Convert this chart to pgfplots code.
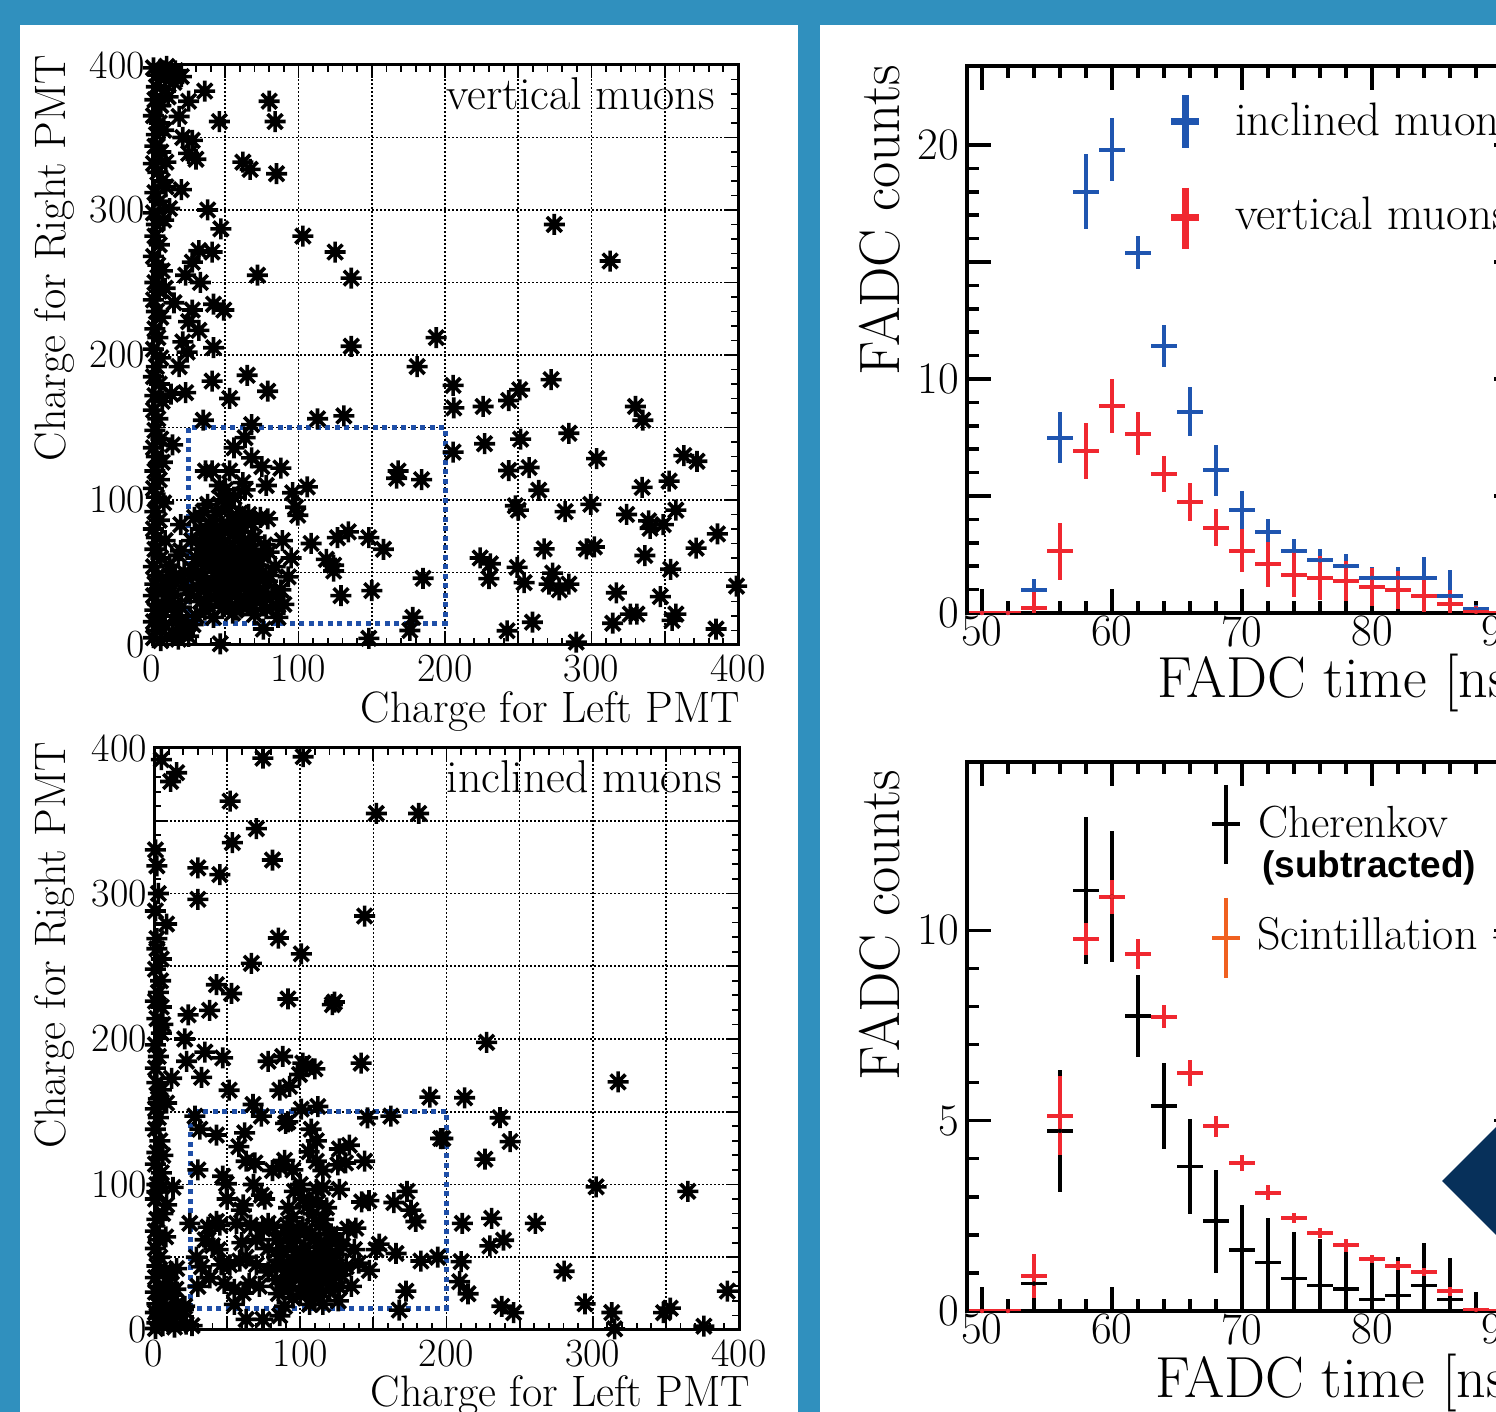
\documentclass[border=0pt]{standalone}
\usepackage{fontspec}
\newfontfamily\lsans{Liberation Sans}
\usepackage{pgfplots}
\pgfplotsset{compat=1.18}
\definecolor{bgblue}{HTML}{3090BE}
\definecolor{cblue}{HTML}{1F55B0}
\definecolor{cred}{HTML}{F02830}
\definecolor{cbox}{HTML}{1F4FA8}
\definecolor{corange}{HTML}{F06020}
\definecolor{navy}{HTML}{07305A}

% ROOT style "*" marker
\pgfdeclareplotmark{rstar}{%
  \pgfpathmoveto{\pgfqpoint{-\pgfplotmarksize}{0pt}}\pgfpathlineto{\pgfqpoint{\pgfplotmarksize}{0pt}}%
  \pgfpathmoveto{\pgfqpoint{0pt}{-\pgfplotmarksize}}\pgfpathlineto{\pgfqpoint{0pt}{\pgfplotmarksize}}%
  \pgfpathmoveto{\pgfqpoint{-.707\pgfplotmarksize}{-.707\pgfplotmarksize}}\pgfpathlineto{\pgfqpoint{.707\pgfplotmarksize}{.707\pgfplotmarksize}}%
  \pgfpathmoveto{\pgfqpoint{-.707\pgfplotmarksize}{.707\pgfplotmarksize}}\pgfpathlineto{\pgfqpoint{.707\pgfplotmarksize}{-.707\pgfplotmarksize}}%
  \pgfusepathqstroke}

\pgfplotsset{
  scat/.style={
    scale only axis, anchor=south west,
    xmin=0, xmax=400, ymin=0, ymax=400,
    xtick={0,50,...,400}, xticklabels={0,,100,,200,,300,,400},
    ytick={0,50,...,400}, yticklabels={0,,100,,200,,300,,400},
    minor x tick num=4, minor y tick num=4,
    major tick length=13pt, minor tick length=7pt,
    tick style={line width=1.8pt, black},
    grid=major, major grid style={black, line width=1.7pt, dash pattern=on 1.7pt off 2.3pt},
    axis line style={line width=3pt},
    /pgf/number format/assume math mode=true,
    ticklabel style={font=\fontsize{40}{44}\selectfont},
    xticklabel style={inner sep=0pt, yshift=-10pt},
    yticklabel style={inner sep=0pt, xshift=-7pt},
  },
  pts/.style={only marks, mark=rstar, mark size=10.5pt, black, mark options={line width=3.6pt}},
  hist/.style={
    scale only axis, anchor=south west,
    xmin=48.85, xmax=91.23, ymin=0,
    xtick={50,60,70,80,90}, xticklabels={50,60,70,80,90},
    minor x tick num=4,
    major tick length=24pt, minor tick length=12pt,
    tick style={line width=3.5pt, black},
    axis line style={line width=4pt},
    /pgf/number format/assume math mode=true,
    ticklabel style={font=\fontsize{45}{48}\selectfont},
    xticklabel style={inner sep=0pt, yshift=-3pt},
    yticklabel style={inner sep=0pt, xshift=-8pt},
  },
  ebar/.style={only marks, mark=none,
    error bars/.cd, x dir=both, x fixed=1, y dir=both, y explicit,
    error mark=none, error bar style={line width=#1}},
}

\pgfplotstableread{
x y ep em
50 0 0 0
52 0 0 0
54 1.0 0.46 0.46
56 7.5 1.1 1.1
58 18.0 1.6 1.6
60 19.8 1.35 1.35
62 15.4 0.7 0.7
64 11.4 0.9 0.9
66 8.6 1.05 1.05
68 6.1 1.1 1.1
70 4.4 0.8 0.8
72 3.45 0.55 0.55
74 2.65 0.5 0.5
76 2.25 0.5 0.5
78 2.0 0.5 0.5
80 1.5 0.45 0.45
82 1.5 0.45 0.45
84 1.5 0.9 0.9
86 0.73 1.1 0.73
88 0.15 0.2 0.15
90 0 0 0
}\inclined

\pgfplotstableread{
x y ep em
50 0 0 0
52 0 0 0
54 0.2 0.69 0.2
56 2.63 1.2 1.2
58 6.94 1.2 1.2
60 8.83 1.15 1.15
62 7.67 0.92 0.92
64 5.95 0.77 0.77
66 4.75 0.8 0.8
68 3.65 0.8 0.8
70 2.67 0.9 0.9
72 2.08 0.96 0.96
74 1.64 0.97 0.97
76 1.5 0.93 0.93
78 1.36 0.86 0.86
80 1.11 0.8 0.8
82 0.98 0.8 0.8
84 0.73 0.7 0.7
86 0.4 0.6 0.4
88 0.05 0.25 0.05
90 0 0 0
}\vertical

\pgfplotstableread{
x y ep em
50 0 0 0
52 0 0 0
54 0.72 0.7 0.72
56 4.73 1.6 1.6
58 11.05 1.93 1.93
60 10.88 1.72 1.72
62 7.75 1.08 1.08
64 5.38 1.13 1.13
66 3.8 1.25 1.25
68 2.36 1.35 1.35
70 1.6 1.19 1.6
72 1.28 1.15 1.28
74 0.86 1.22 0.86
76 0.67 1.22 0.67
78 0.58 0.97 0.58
80 0.3 0.99 0.3
82 0.41 1.02 0.41
84 0.67 1.12 0.67
86 0.3 1.08 0.3
88 0 0.5 0
}\cherenkov

\pgfplotstableread{
x y ep em
50 0 0 0
52 0 0 0
54 0.92 0.57 0.57
56 5.13 1.03 1.03
58 9.77 0.42 0.42
60 10.88 0.44 0.44
62 9.37 0.4 0.4
64 7.73 0.3 0.3
66 6.25 0.33 0.33
68 4.85 0.27 0.27
70 3.89 0.2 0.2
72 3.11 0.2 0.2
74 2.44 0.14 0.14
76 2.05 0.13 0.13
78 1.73 0.17 0.17
80 1.37 0.1 0.1
82 1.19 0.12 0.12
84 1.03 0.1 0.1
86 0.52 0.12 0.12
88 0.03 0.03 0.03
90 0 0 0
}\scint

\begin{document}
\begin{tikzpicture}[x=1pt,y=1pt]
\useasboundingbox (0,0) rectangle (1496,1412);
\clip (0,0) rectangle (1496,1412);
\fill[bgblue] (0,0) rectangle (1496,1412);
\fill[white] (20,0) rectangle (798,1387);
\fill[white] (820,0) rectangle (1496,1387);

% ---------------- vertical muons scatter
\begin{axis}[scat, at={(152pt,767pt)}, width=586pt, height=580pt]
\addplot[pts] coordinates {
(36,382) (25,375) (18.5,364.5) (46,361) (80,375) (84,361) (21,350) (27.5,348) (25,339) (30,335)
(9.5,333) (62,333) (67,328) (85,325) (20,314) (9.5,316) (38,300) (12,301) (47,287) (103,282)
(125,271) (32,272) (41,271) (27.5,264) (23,255) (33,250) (72,255) (136,253) (15,236) (27.5,231)
(42,235) (49,231) (25,223) (32,217) (21,209) (42,205) (24,202) (136,206) (194,212) (181,192)
(18.5,192) (41,182) (65,186) (13,173) (23,174) (53,170) (79,175) (35,155) (113,156) (131,158)
(68,152) (63.5,143) (14,138) (56,136) (68,129) (36.5,120) (41,120) (53,120) (75,123) (88,122)
(168,120) (167,115) (184,114) (106,109) (96,105) (50,107) (63.5,107) (78,110) (98,95) (99.5,89.5)
(19.6,83) (79,87) (108.6,70) (126.6,74) (134,78) (148,74) (158,66) (119,59) (124,55) (124,51)
(185,46) (150,37.5) (129,34) (19.6,65) (14,44.5) (178,19) (176,10) (76,11) (148,4.6) (46.6,0.8)
(274.6,290) (312.7,264.8) (205.5,179) (206,163.5) (226,164.5) (243.5,168.6) (251,176) (272.4,183)
(330,164.5) (335,155) (205.5,133) (227,138.8) (251.6,142) (284.6,146) (303.5,128.5) (363,130.6)
(372,126.7) (243.5,120.3) (257.4,122.4) (334.6,108.7) (353,113) (264,106.7) (248,96) (250,93)
(282,92) (299.5,97) (324,90) (339,85.6) (340,80.5) (349,83) (357.6,93) (386,76.6) (371.4,66.8)
(336.4,61.7) (354,52.2) (267.7,66.3) (296.5,66.3) (302,67.6) (224,60) (231,56) (230,45.8)
(249.3,53.5) (254,43) (273.5,49.6) (271,42) (278,38) (284.6,42) (317,36) (347,33.4) (326.5,21.3)
(331,21.3) (357.6,21.3) (355,17) (314.5,15) (259.7,15.7) (242.4,9.8) (289.6,2) (385,11) (399,40.6)
(1,398) (4,393) (8,396) (12,390) (3,385) (9,383) (15,388) (2,376) (6,372) (11,378) (1,365) (5,360)
(3,352) (8,355) (2,344) (6,340) (1,332) (4,326) (7,320) (2,312) (5,306) (1,298) (3,290) (8,293)
(2,282) (5,276) (1,268) (4,262) (7,258) (2,250) (5,244) (9,246) (1,238) (3,230) (6,226) (2,218)
(4,212) (1,204) (6,198) (3,192) (1,185) (5,180) (2,172) (7,168) (1,162) (4,156) (2,148) (6,142)
(1,136) (3,130) (7,126) (2,120) (5,114) (1,108) (3,102) (8,98) (2,92) (5,86) (1,80) (3,74) (9,72)
(2,66) (6,60) (1,54) (4,48) (10,45) (2,42) (7,38) (1,34) (4,28) (12,30) (2,24) (6,20) (1,16)
(9,14) (3,10) (14,8) (1,5) (6,3) (18,4) (22,10) (16,20) (20,26) (25,6) (28,14) (10,399) (16,396) (20,392)
(30,20) (36,24) (42,19) (48,26) (55,22) (62,27) (70,21) (78,25) (86,19) (33,30) (40,33) (47,31)
(53,36) (60,32) (67,35) (74,30) (82,34) (90,28) (31,40) (37,44) (44,41) (50,46) (57,42) (64,45)
(71,40) (79,44) (88,38) (34,50) (41,53) (48,51) (54,56) (61,52) (68,55) (75,50) (84,54) (30,60)
(38,63) (45,61) (51,66) (58,62) (65,65) (72,60) (80,64) (35,70) (42,73) (49,71) (56,76) (63,72)
(70,74) (77,69) (33,80) (40,83) (47,81) (54,86) (61,82) (68,84) (44,92) (52,95) (60,91) (38,97)
(56,102) (29,88) (27,72) (28,52) (26,35) (93,47) (95,60) (89,72) (66,90) (74,88) (46,110) (62,112)
(10,40) (15,35) (20,45) (12,55) (18,62) (22,50) (16,48) (24,38) (14,26) (20,16)
(38,28) (45,35) (52,29) (58,38) (65,28) (44,47) (52,52) (59,48) (66,50) (36,55) (43,58) (50,60)
(57,57) (64,60) (40,66) (47,68) (54,64) (61,68) (68,65) (75,62) (36,38) (50,40) (57,24) (63,40)
(73,46) (46,77) (53,80) (39,76) (60,78) (33,66) (31,48) (73,55) (80,48) (42,86) (58,88) (85,27)
(76,36) (69,46) (35,92) (48,100)
};
\draw[cbox, line width=5pt, dash pattern=on 5pt off 4.5pt] (axis cs:25,15) rectangle (axis cs:200,150);
\end{axis}

% ---------------- inclined muons scatter
\begin{axis}[scat, at={(154pt,82pt)}, width=585pt, height=582pt]
\addplot[pts] coordinates {
(5,392) (15.5,383) (11.4,377) (74.5,393) (102,394) (52,363.5) (152,355) (181,355) (70,344.6) (53.6,335)
(81,323) (30,317.6) (45,313) (2,319) (30,296) (8.6,279) (2,269) (144,284.5) (85,269.4) (100.7,258.5)
(66.6,252) (4.5,240) (42.7,237.3) (53,231.3) (91.6,227.5) (123.4,225.4) (122,223.6) (5,222) (23.4,216.6)
(38,219.7) (5,204) (21,200) (34.8,191) (47,187) (22.3,184.7) (78,184.7) (88,188) (101.8,183.4) (104,181)
(99.5,175.6) (110,179.5) (141.6,183.4) (12,173) (32.5,173.6) (51.4,164.8) (86,164.8) (92.7,167.4)
(8.6,156) (3,158.8) (67.7,155) (112,153.6) (188.6,160) (28,147) (31.4,138) (73.4,147) (91.6,143)
(100.7,151.8) (146,145.8) (162,147) (42.7,134) (62,135.5) (107.5,138) (111,130) (196,131.6) (106,122.5)
(126.8,124.4) (133.6,127) (63,116) (69,114.8) (81,109.6) (86,112) (89.3,116.6) (111,116) (115.5,109.6)
(125.7,113.5) (131,114.8) (144,116) (47,105.7) (49.5,100.5) (96,95.3) (111,96.6) (115.5,98) (126.8,96.6)
(73.4,92.7) (75.7,90) (147,88.9) (164,87.6) (173,95.3) (175.7,82.4) (179,74.6) (61,86) (59.8,82.4)
(4,100.5) (13,98) (8.6,86) (24.5,73.3) (37,70.7) (42.7,74.6) (56.4,73.3) (78,73.3) (81.4,70.7)
(74.5,69.4) (95,77.2) (101.8,70.7) (97.3,64.2) (108.6,79.8) (113,72) (118.9,65.5) (124.5,61.7)
(132.5,69.4) (15.5,42.2) (29,50) (32.5,43.5) (43.9,55.2) (46,44.8) (51.8,44.8) (58.6,47.4) (63,50)
(70,44.8) (38.2,35.8) (86,51.3) (90.4,41) (83.6,34.5) (95,46) (101.8,51.3) (104,42.2) (110.9,50)
(113,41) (108.6,35.8) (99.5,35.8) (118.9,55.2) (122,46) (117.7,35.8) (126.8,29.3) (131.4,43.5)
(137,55.2) (151.8,55.2) (154,59) (147.3,41) (165.5,52.6) (182.5,47.4) (194,50) (172.3,26.7)
(167.7,13.7) (55,17.6) (61,25.4) (63,7.3) (74.5,7.3) (86,9.8) (89.3,16.3) (106.4,17.6) (115.5,17.6)
(21,16.3) (15.5,9.8) (210,47)
(227.4,197.7) (317.3,170.5) (212.4,159.6) (236.6,145.9) (243.5,129.5) (197.5,131.6) (226.3,117.4)
(302.3,98.4) (365,95.3) (210.8,73.3) (230.9,76.7) (260.8,73.3) (229.7,57.8) (239,61.7) (280.4,40.4)
(209,33.2) (214.7,24.9) (237.8,16.3) (245.9,11.9) (294.7,18) (348.4,11.9) (353,15) (376,2.6)
(392,26.7) (315,0.8) (313,12)
(1,330) (3,300) (1,288) (2,262) (5,255) (1,248) (3,232) (1,226) (2,214) (6,210) (1,196) (3,188)
(1,180) (2,170) (5,165) (1,152) (3,146) (1,138) (4,130) (2,122) (1,114) (5,108) (2,95) (1,90)
(6,80) (2,76) (1,68) (3,62) (8,64) (1,56) (4,50) (2,44) (7,40) (1,36) (3,30) (10,32) (1,26) (5,22)
(12,24) (2,18) (8,16) (16,18) (1,12) (4,10) (10,8) (18,10) (22,4) (2,5) (6,3) (14,2) (26,3) (1,1)
(20,14) (12,40) (15,28) (6,120) (3,156) (2,100)
(85,25) (92,28) (100,24) (108,30) (115,26) (122,32) (88,55) (95,60) (103,57) (110,62) (118,58)
(125,52) (84,62) (91,66) (99,48) (106,45) (113,53) (120,40) (128,38) (135,30) (140,46) (105,85)
(100,100) (95,110) (112,88) (60,60) (65,32) (72,30) (55,28) (48,32) (40,58) (35,62) (30,30) (45,72)
(50,90) (68,100) (58,126) (90,142) (30,110) (78,40) (138,70) (142,88)
(88,32) (96,36) (104,30) (112,36) (120,28) (93,42) (101,40) (109,44) (117,48) (124,44) (86,48)
(97,54) (105,50) (114,60) (121,66) (91,72) (99,68) (107,66) (116,76) (129,58) (83,44) (95,22)
(110,22) (126,20) (102,90) (118,84) (92,84) (78,56) (70,62) (66,72)
};
\draw[cbox, line width=5pt, dash pattern=on 5pt off 4.5pt] (axis cs:25,15) rectangle (axis cs:200,150);
\end{axis}

% scatter labels
\node[rotate=90, anchor=east, inner sep=0pt, font=\fontsize{44}{48}\selectfont] at (55,1357) {Charge for Right PMT};
\node[rotate=90, anchor=east, inner sep=0pt, font=\fontsize{44}{48}\selectfont] at (55,670) {Charge for Right PMT};
\node[anchor=base east, inner sep=0pt, font=\fontsize{44}{48}\selectfont] at (740,689) {Charge for Left PMT};
\node[anchor=base east, inner sep=0pt, font=\fontsize{44}{48}\selectfont] at (750,5) {Charge for Left PMT};
\node[anchor=base east, inner sep=0pt, font=\fontsize{46}{50}\selectfont] at (715,1302) {vertical muons};
\node[anchor=base east, inner sep=0pt, font=\fontsize{46}{50}\selectfont] at (722,619) {inclined muons};

% ---------------- top histogram
\begin{axis}[hist, at={(967pt,799pt)}, width=551pt, height=547pt, ymax=23.38,
  ytick={0,10,20}, yticklabels={0,10,20}, minor y tick num=9,
  extra y ticks={5,15}, extra y tick labels={}]
\addplot[cblue, ebar=4pt] table[x=x, y=y, y error plus=ep, y error minus=em] {\inclined};
\addplot[cred, ebar=4pt] table[x=x, y=y, y error plus=ep, y error minus=em] {\vertical};
\end{axis}
\draw[cblue, line width=7pt] (1185,1317) -- (1185,1264) (1171,1290) -- (1199,1290);
\draw[cred, line width=7pt] (1185,1224) -- (1185,1163) (1171,1194) -- (1199,1194);
\node[anchor=base west, inner sep=0pt, font=\fontsize{47}{50}\selectfont] at (1235,1276) {inclined muons};
\node[anchor=base west, inner sep=0pt, font=\fontsize{47}{50}\selectfont] at (1235,1182) {vertical muons};
\node[rotate=90, anchor=east, inner sep=0pt, font=\fontsize{57}{60}\selectfont] at (880,1347) {FADC counts};
\node[anchor=base west, inner sep=0pt, font=\fontsize{58}{62}\selectfont] at (1157,714) {FADC time [ns]};

% ---------------- bottom histogram
\begin{axis}[hist, at={(967pt,101pt)}, width=551pt, height=549pt, ymax=14.42,
  ytick={0,5,10}, yticklabels={0,5,10}, minor y tick num=4]
\addplot[black, ebar=3.5pt] table[x=x, y=y, y error plus=ep, y error minus=em] {\cherenkov};
\addplot[cred, ebar=4pt] table[x=x, y=y, y error plus=ep, y error minus=em] {\scint};
\end{axis}
\draw[black, line width=3.5pt] (1226,627) -- (1226,548) (1212,588) -- (1240,588);
\draw[corange, line width=3.5pt] (1226,514) -- (1226,434) (1212,474) -- (1240,474);
\node[anchor=base west, inner sep=0pt, font=\fontsize{45}{48}\selectfont] at (1258,574) {Cherenkov};
\node[anchor=base west, inner sep=0pt, font=\lsans\bfseries\fontsize{37}{40}\selectfont] at (1262,534) {(subtracted)};
\node[anchor=base west, inner sep=0pt, font=\fontsize{46}{50}\selectfont] at (1257,462) {Scintillation + Cherenkov};
\node[rotate=90, anchor=east, inner sep=0pt, font=\fontsize{57}{60}\selectfont] at (880,642) {FADC counts};
\node[anchor=base west, inner sep=0pt, font=\fontsize{58}{62}\selectfont] at (1155,14) {FADC time [ns]};

\fill[navy] (1442,231) -- (1496,285) -- (1550,231) -- (1496,177) -- cycle;
\end{tikzpicture}
\end{document}
